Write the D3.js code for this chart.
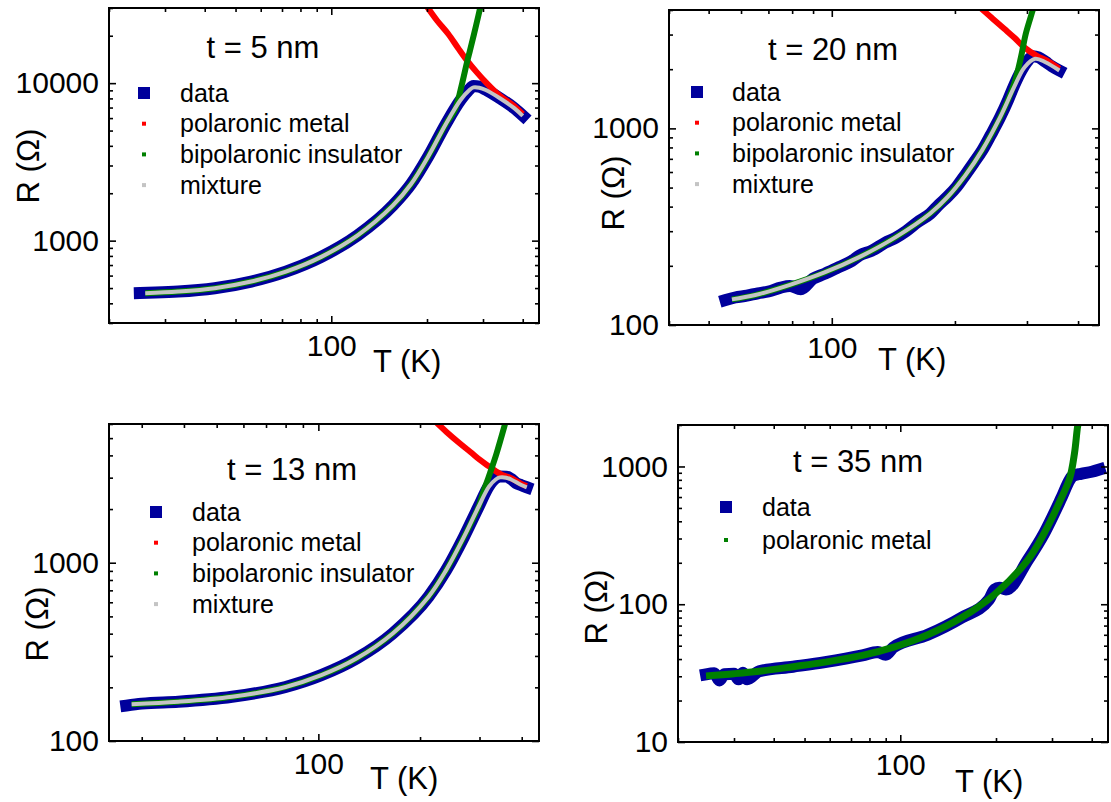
<!DOCTYPE html>
<html>
<head>
<meta charset="utf-8">
<script src="https://cdn.jsdelivr.net/npm/d3@7/dist/d3.min.js"></script>
<style>
  html, body { margin: 0; padding: 0; background: #ffffff; }
  svg { display: block; }
  text { font-family: "Liberation Sans", Arial, Helvetica, sans-serif; fill: #000; }
</style>
</head>
<body>
<script>
// ---------------- DATA ----------------
// t = 5 nm
const t5_data_T = [25, 28, 33, 43, 56, 72, 93, 121, 156, 178, 202, 230, 255, 270, 280, 292, 306, 339, 376, 401];
const t5_data_R = [465, 468, 475, 499, 550, 636, 789, 1080, 1667, 2280, 3435, 5570, 7810, 9000, 9600, 9500, 9100, 8020, 6940, 6200];
const t5_pm_T   = [198, 215, 233, 250, 267, 287, 308, 339, 376, 400];
const t5_pm_R   = [31500, 25000, 20600, 16800, 13960, 11700, 10000, 8300, 7150, 6350];
const t5_bi_T   = [26, 33, 43, 56, 72, 93, 121, 156, 178, 202, 230, 245, 258, 267, 273, 285, 297];
const t5_bi_R   = [464, 475, 499, 550, 636, 789, 1080, 1667, 2280, 3435, 5570, 6800, 10000, 13500, 16100, 23000, 33000];
const t5_mix_T  = [26, 33, 43, 56, 72, 93, 121, 156, 178, 202, 230, 255, 272, 280, 292, 306, 339, 376, 400];
const t5_mix_R  = [464, 475, 499, 550, 636, 789, 1080, 1667, 2280, 3435, 5570, 7810, 9050, 9400, 9350, 9040, 8020, 6940, 6200];

// t = 20 nm
const t20_data_T = [55, 58, 62, 66, 70, 75, 79, 84, 90, 96, 104, 112, 117, 125, 135, 143, 152, 162, 174, 183, 192, 202, 212, 222, 233, 245, 258, 270, 279, 290, 300, 310, 320, 333, 345, 360];
const t20_data_R = [134, 138, 141, 145, 148, 155, 158, 152, 172, 182, 197, 212, 226, 238, 262, 277, 300, 333, 368, 410, 450, 505, 580, 665, 770, 930, 1140, 1400, 1650, 1950, 2180, 2330, 2300, 2180, 2070, 1970];
const t20_pm_T   = [228, 246, 264, 280, 295, 318, 335, 360];
const t20_pm_R   = [4200, 3650, 3210, 2880, 2590, 2330, 2220, 2010];
const t20_bi_T   = [57, 65, 79, 96, 117, 143, 174, 192, 212, 233, 258, 279, 290, 298, 310, 314];
const t20_bi_R   = [135, 142, 160, 185, 222, 279, 369, 448, 577, 773, 1140, 1680, 2300, 3030, 4000, 4400];
const t20_mix_T  = [57, 65, 79, 96, 117, 143, 174, 192, 212, 233, 258, 279, 296, 314, 333, 360];
const t20_mix_R  = [135, 142, 160, 185, 222, 279, 369, 448, 577, 773, 1140, 1620, 2048, 2260, 2170, 1970];

// t = 13 nm
const t13_data_T = [27, 30, 38.5, 55.5, 80, 102, 130, 166, 212, 239, 270, 298, 320, 335, 345, 360, 371, 385, 399, 414];
const t13_data_R = [158, 162, 166, 177, 201, 234, 291, 401, 645, 909, 1400, 2060, 2700, 2980, 3050, 3040, 2960, 2800, 2720, 2650];
const t13_pm_T   = [220, 240, 262, 282, 301, 320, 337, 350, 371, 399, 414];
const t13_pm_R   = [6300, 5400, 4680, 4180, 3770, 3470, 3240, 3110, 2990, 2770, 2690];
const t13_bi_T   = [28, 38.5, 55.5, 80, 102, 130, 166, 212, 239, 270, 298, 307, 322, 337, 357, 362];
const t13_bi_R   = [161, 166, 177, 201, 234, 291, 401, 645, 909, 1400, 2060, 2450, 3170, 4110, 6000, 6600];
const t13_mix_T  = [28, 38.5, 55.5, 80, 102, 130, 166, 212, 239, 270, 298, 320, 335, 345, 360, 371, 399, 414];
const t13_mix_R  = [161, 166, 177, 201, 234, 291, 401, 645, 909, 1400, 2060, 2670, 2930, 3010, 3000, 2940, 2730, 2650];

// t = 35 nm
const t35_data_T = [24.5, 26, 27, 28, 30, 31, 32, 33, 36, 46, 58, 76, 85, 90, 95, 122, 156, 190, 198, 205, 215, 252, 284, 321, 341, 346, 352, 370, 400, 423];
const t35_data_R = [31, 31.5, 28, 31, 31.3, 28.5, 31.8, 28.5, 32.6, 35.2, 38, 42.5, 45, 43, 48.5, 60, 80, 108, 128, 132, 128, 210, 330, 590, 800, 840, 860, 885, 915, 950];
const t35_pm_T   = [24.5, 30, 36, 46, 58, 76, 96, 122, 156, 198, 252, 284, 321, 341, 353, 361, 366];
const t35_pm_R   = [30.2, 31.3, 32.6, 35.2, 38, 42.5, 49, 60, 80, 118, 210, 330, 590, 820, 1245, 1940, 2300];

// axes
const t5_xDomain = [20, 450],  t5_yDomain = [300, 30000];
const t20_xDomain = [40, 450], t20_yDomain = [100, 4000];
const t13_xDomain = [24, 450], t13_yDomain = [100, 6000];
const t35_xDomain = [20, 450], t35_yDomain = [10, 2000];
const xTickLabels = [100];
const t5_yTickLabels = [1000, 10000];
const t20_yTickLabels = [100, 1000];
const t13_yTickLabels = [100, 1000];
const t35_yTickLabels = [10, 100, 1000];

const titles = ["t = 5 nm", "t = 20 nm", "t = 13 nm", "t = 35 nm"];
const legendNames4 = ["data", "polaronic metal", "bipolaronic insulator", "mixture"];
const legendNames2 = ["data", "polaronic metal"];
const xAxisTitle = "T (K)";
const yAxisTitle = "R (Ω)";

// ---------------- STYLE / LAYOUT ----------------
const COL = { data: "#00009c", pm: "#ff0000", bi: "#008000", mix: "#c4c4c4" };
const FONT_TICK = 30, FONT_TITLE = 31, FONT_LEG = 25, FONT_AX = 31;

const panels = [
  { x0:109, x1:539, y0:8, y1:323, yl:[28,166], tl:[373,372], title:[263,58], leg:{mx:144, tx:180, y:93, dy:30.7},
    xd:t5_xDomain, yd:t5_yDomain, yt:t5_yTickLabels, ti:titles[0], names:legendNames4,
    series:[
      {T:t5_data_T, R:t5_data_R, kind:"data"},
      {T:t5_pm_T, R:t5_pm_R, kind:"pm"},
      {T:t5_bi_T, R:t5_bi_R, kind:"bi"},
      {T:t5_mix_T, R:t5_mix_R, kind:"mix"}],
    legKinds:["data","pm","bi","mix"] },
  { x0:669, x1:1099, y0:10, y1:325, yl:[613,193], tl:[878,370], title:[833,60], leg:{mx:697, tx:732, y:92, dy:30.7},
    xd:t20_xDomain, yd:t20_yDomain, yt:t20_yTickLabels, ti:titles[1], names:legendNames4,
    series:[
      {T:t20_data_T, R:t20_data_R, kind:"data"},
      {T:t20_pm_T, R:t20_pm_R, kind:"pm"},
      {T:t20_bi_T, R:t20_bi_R, kind:"bi"},
      {T:t20_mix_T, R:t20_mix_R, kind:"mix"}],
    legKinds:["data","pm","bi","mix"] },
  { x0:109, x1:539, y0:424, y1:741, yl:[37,624], tl:[370,789], title:[292,480], leg:{mx:156, tx:192, y:512, dy:30.7},
    xd:t13_xDomain, yd:t13_yDomain, yt:t13_yTickLabels, ti:titles[2], names:legendNames4,
    series:[
      {T:t13_data_T, R:t13_data_R, kind:"data"},
      {T:t13_pm_T, R:t13_pm_R, kind:"pm"},
      {T:t13_bi_T, R:t13_bi_R, kind:"bi"},
      {T:t13_mix_T, R:t13_mix_R, kind:"mix"}],
    legKinds:["data","pm","bi","mix"] },
  { x0:678, x1:1108, y0:425, y1:742, yl:[596,607], tl:[955,792], title:[858,472], leg:{mx:726, tx:762, y:507, dy:33},
    xd:t35_xDomain, yd:t35_yDomain, yt:t35_yTickLabels, ti:titles[3], names:legendNames2,
    series:[
      {T:t35_data_T, R:t35_data_R, kind:"data"},
      {T:t35_pm_T, R:t35_pm_R, kind:"bi35"}],
    legKinds:["data","bi"] }
];

const svg = d3.select("body").append("svg").attr("width", 1111).attr("height", 802);

function logTicks(dom) {
  const out = [];
  const lo = Math.floor(Math.log10(dom[0])), hi = Math.ceil(Math.log10(dom[1]));
  for (let d = lo; d <= hi; d++) for (let k = 1; k <= 9; k++) {
    const v = k * Math.pow(10, d);
    if (v >= dom[0] * 0.999 && v <= dom[1] * 1.001) out.push({v, major: k === 1});
  }
  return out;
}

panels.forEach((p, i) => {
  const g = svg.append("g");
  const x = d3.scaleLog().domain(p.xd).range([p.x0, p.x1]);
  const y = d3.scaleLog().domain(p.yd).range([p.y1, p.y0]);

  const clipId = "clip" + i;
  svg.append("clipPath").attr("id", clipId).append("rect")
    .attr("x", p.x0).attr("y", p.y0).attr("width", p.x1 - p.x0).attr("height", p.y1 - p.y0);

  const plot = g.append("g").attr("clip-path", `url(#${clipId})`);
  const lineSmooth = d3.line().x(d => x(d[0])).y(d => y(d[1])).curve(d3.curveCatmullRom.alpha(0.5));
  const lineData = d3.line().x(d => x(d[0])).y(d => y(d[1])).curve(d3.curveMonotoneX);

  p.series.forEach(s => {
    const pts = s.T.map((t, j) => [t, s.R[j]]);
    if (s.kind === "data") {
      plot.append("path").attr("d", lineData(pts)).attr("fill", "none")
        .attr("stroke", COL.data).attr("stroke-width", 12)
        .attr("stroke-linejoin", "round").attr("stroke-linecap", "square");
    } else {
      const col = s.kind === "pm" ? COL.pm : (s.kind === "mix" ? COL.mix : COL.bi);
      const w = s.kind === "mix" ? 4 : (s.kind === "bi35" ? 7 : 6);
      plot.append("path").attr("d", lineSmooth(pts)).attr("fill", "none")
        .attr("stroke", col).attr("stroke-width", w)
        .attr("stroke-linejoin", "round").attr("stroke-linecap", "butt");
    }
  });

  // axes
  const xt = logTicks(p.xd), yt = logTicks(p.yd);
  const xMaj = xTickLabels.filter(v => v >= p.xd[0] && v <= p.xd[1]);
  const xMin = xt.filter(t => !t.major).map(t => t.v);
  const yMaj = p.yt;
  const yMin = yt.filter(t => !t.major).map(t => t.v);

  function styleAxis(sel) {
    sel.select(".domain").remove();
    sel.selectAll(".tick line").attr("stroke", "#000").attr("stroke-width", 1.6);
    sel.selectAll(".tick text").attr("font-size", FONT_TICK)
      .attr("font-family", '"Liberation Sans", Arial, sans-serif').attr("fill", "#000");
  }
  const MAJ = 7, MIN = 4;
  g.append("g").attr("transform", `translate(0,${p.y1})`)
    .call(d3.axisBottom(x).tickValues(xMaj).tickSize(-MAJ).tickPadding(12).tickFormat(d3.format("d"))).call(styleAxis);
  g.append("g").attr("transform", `translate(0,${p.y1})`)
    .call(d3.axisBottom(x).tickValues(xMin).tickSize(-MIN).tickFormat("")).call(styleAxis);
  g.append("g").attr("transform", `translate(0,${p.y0})`)
    .call(d3.axisTop(x).tickValues(xMaj).tickSize(-MAJ).tickFormat("")).call(styleAxis);
  g.append("g").attr("transform", `translate(0,${p.y0})`)
    .call(d3.axisTop(x).tickValues(xMin).tickSize(-MIN).tickFormat("")).call(styleAxis);
  g.append("g").attr("transform", `translate(${p.x0},0)`)
    .call(d3.axisLeft(y).tickValues(yMaj).tickSize(-MAJ).tickPadding(10).tickFormat(d3.format("d"))).call(styleAxis);
  g.append("g").attr("transform", `translate(${p.x0},0)`)
    .call(d3.axisLeft(y).tickValues(yMin).tickSize(-MIN).tickFormat("")).call(styleAxis);
  g.append("g").attr("transform", `translate(${p.x1},0)`)
    .call(d3.axisRight(y).tickValues(yMaj).tickSize(-MAJ).tickFormat("")).call(styleAxis);
  g.append("g").attr("transform", `translate(${p.x1},0)`)
    .call(d3.axisRight(y).tickValues(yMin).tickSize(-MIN).tickFormat("")).call(styleAxis);

  // frame
  g.append("rect").attr("x", p.x0).attr("y", p.y0).attr("width", p.x1 - p.x0).attr("height", p.y1 - p.y0)
    .attr("fill", "none").attr("stroke", "#000").attr("stroke-width", 2);

  // axis titles
  g.append("text").attr("x", p.tl[0]).attr("y", p.tl[1]).attr("font-size", FONT_AX).text(xAxisTitle);
  g.append("text").attr("transform", `translate(${p.yl[0]},${p.yl[1]}) rotate(-90)`)
    .attr("text-anchor", "middle").attr("dy", "0.35em").attr("font-size", FONT_AX).text(yAxisTitle);

  // panel title
  g.append("text").attr("x", p.title[0]).attr("y", p.title[1]).attr("text-anchor", "middle")
    .attr("font-size", FONT_TITLE).text(p.ti);

  // legend
  p.names.forEach((name, k) => {
    const cy = p.leg.y + k * p.leg.dy;
    const kind = p.legKinds[k];
    const sz = kind === "data" ? 12 : 4;
    g.append("rect").attr("x", p.leg.mx - sz / 2).attr("y", cy - sz / 2).attr("width", sz).attr("height", sz)
      .attr("fill", COL[kind]);
    g.append("text").attr("x", p.leg.tx).attr("y", cy).attr("dy", "0.35em").attr("font-size", FONT_LEG).text(name);
  });
});
</script>
</body>
</html>
